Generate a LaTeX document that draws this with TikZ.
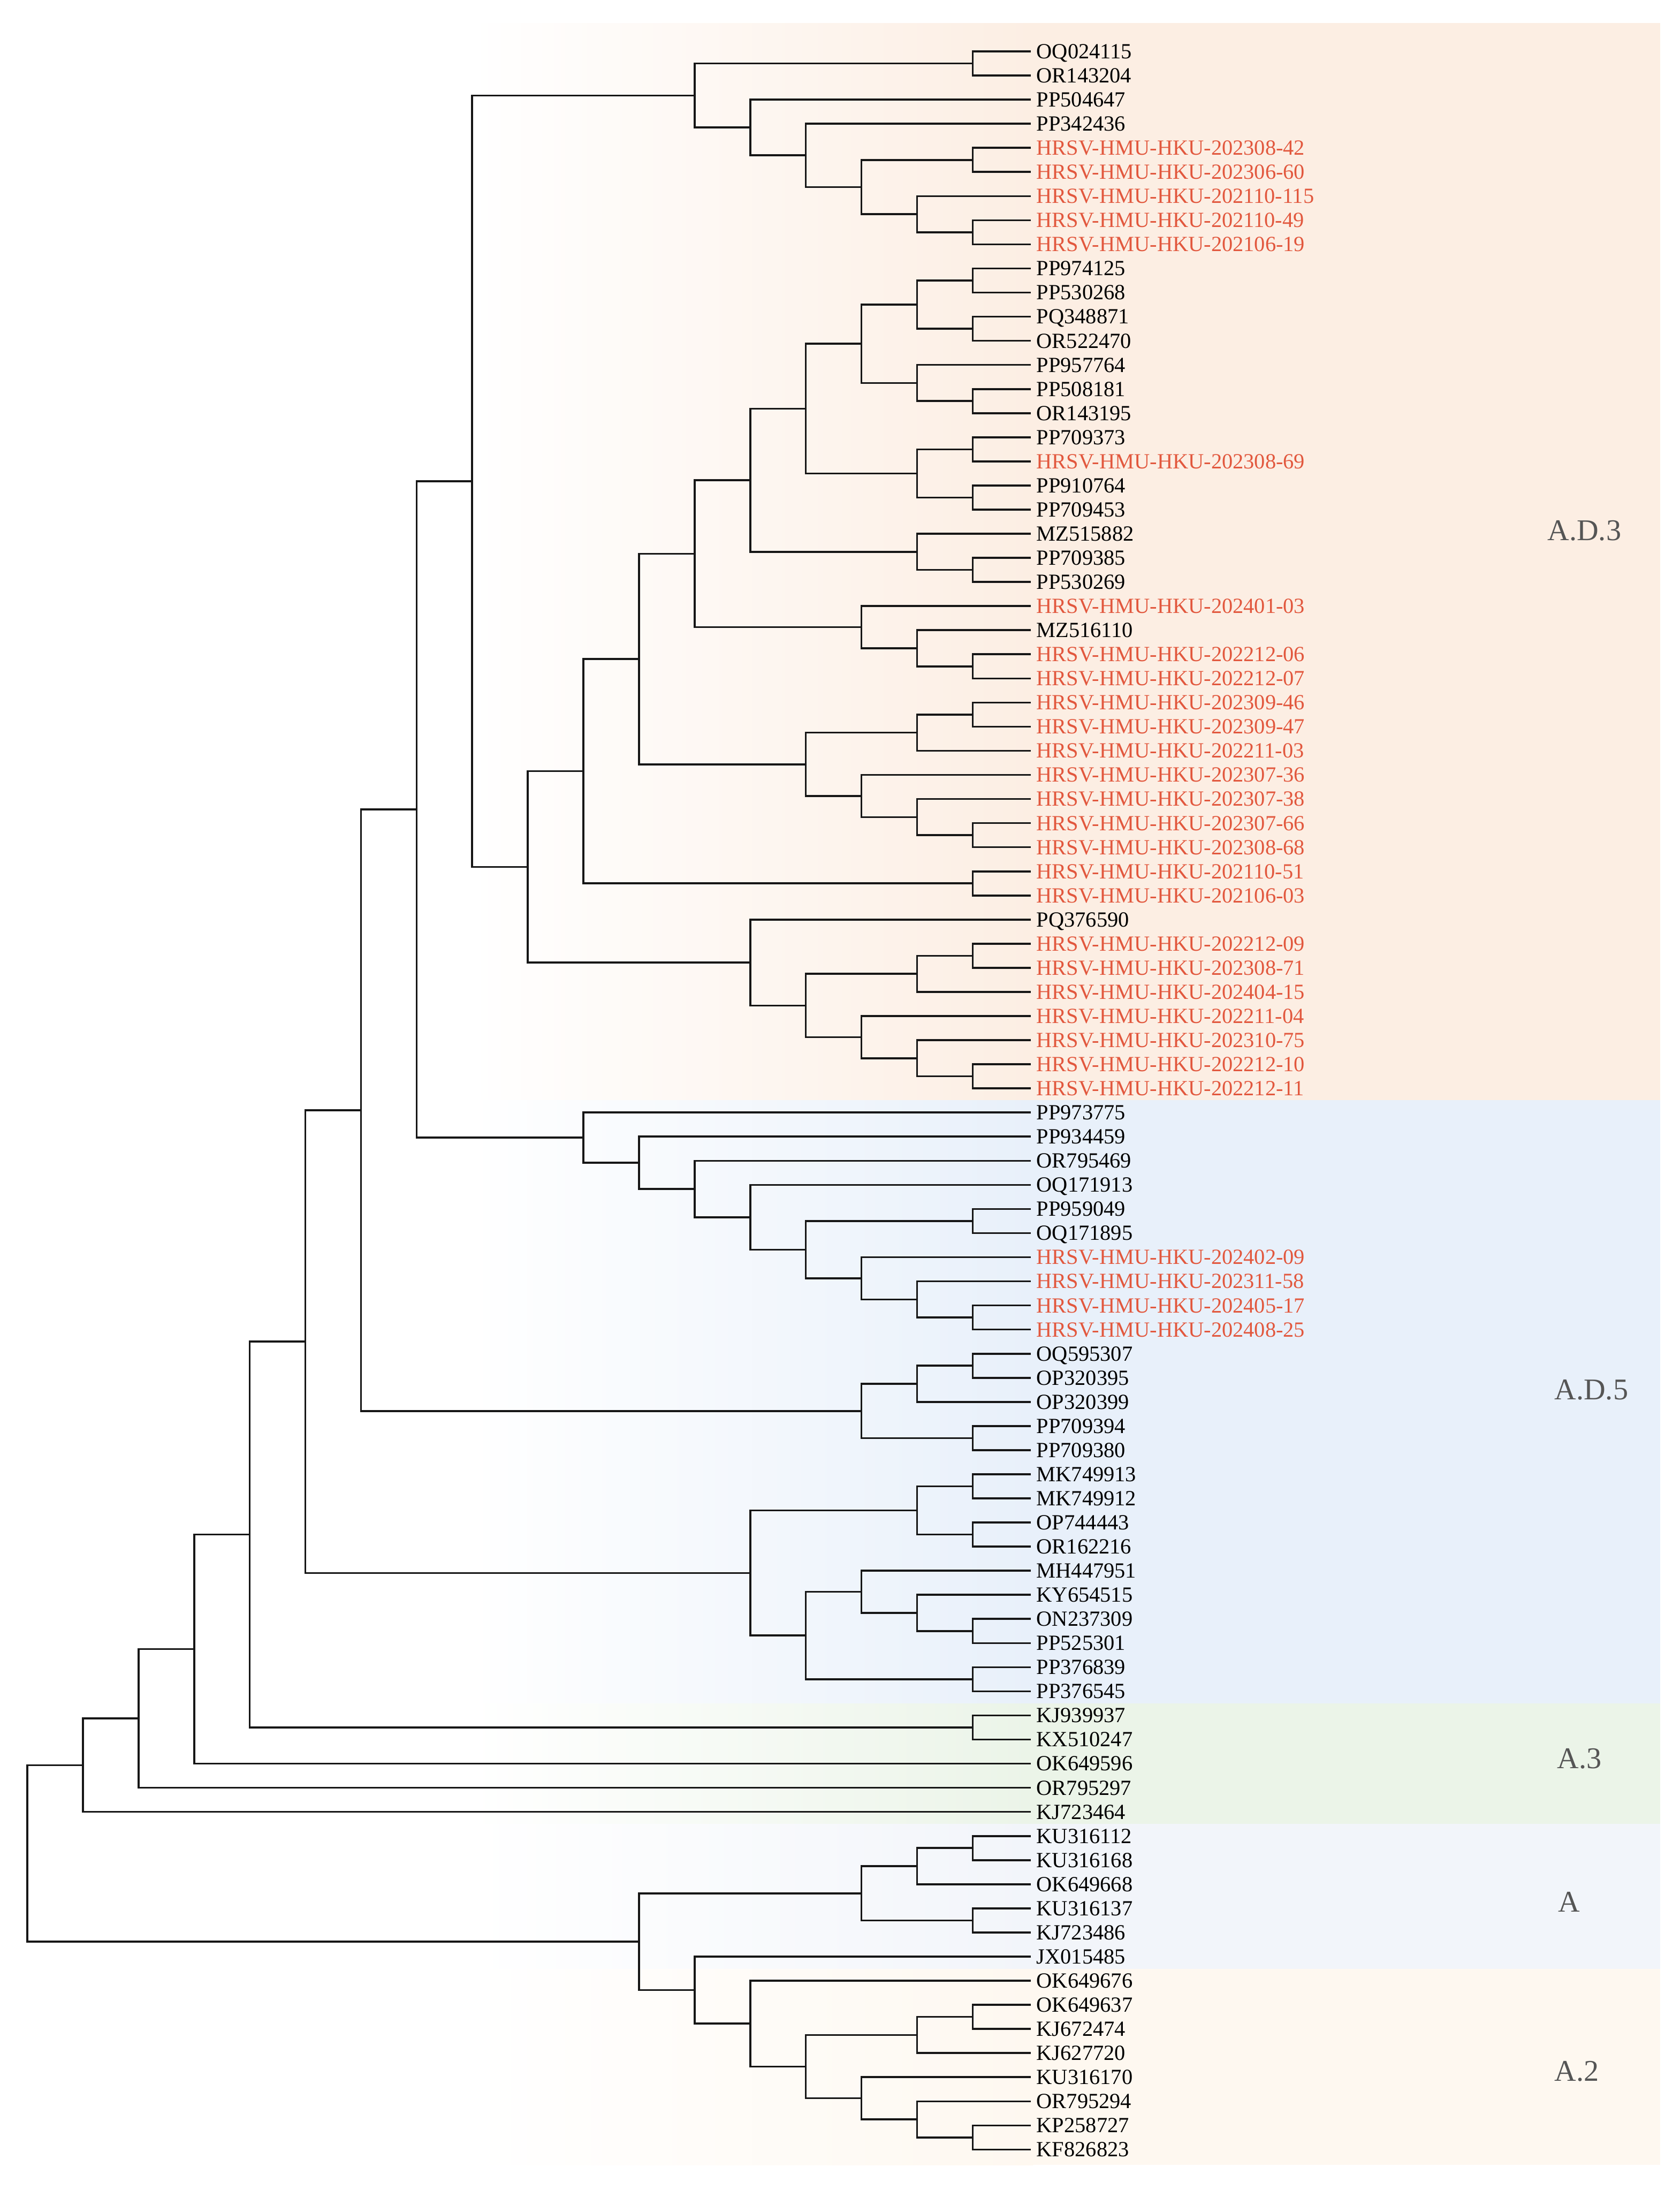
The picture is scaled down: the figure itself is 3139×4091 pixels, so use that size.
\documentclass[tikz,border=0pt]{standalone}
\usepackage{fontspec}
\setmainfont{Liberation Serif}
\usetikzlibrary{calc}
\definecolor{bgAD3}{RGB}{252,238,227}
\definecolor{bgAD5}{RGB}{232,240,250}
\definecolor{bgA3}{RGB}{235,244,232}
\definecolor{bgA}{RGB}{242,245,250}
\definecolor{bgA2}{RGB}{254,248,240}
\definecolor{hkred}{RGB}{226,88,62}
\definecolor{treeline}{RGB}{22,22,22}
\definecolor{cladegray}{RGB}{85,85,85}
\newcommand\lf[3]{%
  \coordinate (l#1) at (1926, {96+45.05*(#1-1)});
  \node[#3, anchor=base west] (t#1) at (1936, {96+45.05*(#1-1)+13.4}) {#2};
}
\newcommand\tn[4]{%
  \path let \p1=(#3), \p2=(#4) in coordinate (#1) at ({(51+103.9*#2)*0.1mm}, {0.5*\y1+0.5*\y2});
  \draw[tbranch] (#3) -| (#1) |- (#4);
}
\begin{document}
\begin{tikzpicture}[x=0.1mm,y=-0.1mm,
  tbranch/.style={line width=0.36mm, draw=treeline},
  leafb/.style={inner sep=0, text=black, font=\fontsize{11.5pt}{13pt}\selectfont},
  leafr/.style={leafb, text=hkred},
  clade/.style={inner sep=0, text=cladegray, font=\fontsize{16pt}{18pt}\selectfont}]
\useasboundingbox (0,0) rectangle (3139,4091);
\fill[white] (0,0) rectangle (3139,4091);
% background bands
\fill[left color=white, right color=bgAD3] (880,43) rectangle (1930,2055);
\fill[bgAD3] (1929,43) rectangle (3102,2055);
\fill[left color=white, right color=bgAD5] (880,2055) rectangle (1930,3182);
\fill[bgAD5] (1929,2055) rectangle (3102,3182);
\fill[left color=white, right color=bgA3] (880,3182) rectangle (1930,3407);
\fill[bgA3] (1929,3182) rectangle (3102,3407);
\fill[left color=white, right color=bgA] (880,3407) rectangle (1930,3678);
\fill[bgA] (1929,3407) rectangle (3102,3678);
\fill[left color=white, right color=bgA2] (880,3678) rectangle (1930,4044);
\fill[bgA2] (1929,3678) rectangle (3102,4044);
% leaves
\lf{1}{OQ024115}{leafb}
\lf{2}{OR143204}{leafb}
\lf{3}{PP504647}{leafb}
\lf{4}{PP342436}{leafb}
\lf{5}{HRSV-HMU-HKU-202308-42}{leafr}
\lf{6}{HRSV-HMU-HKU-202306-60}{leafr}
\lf{7}{HRSV-HMU-HKU-202110-115}{leafr}
\lf{8}{HRSV-HMU-HKU-202110-49}{leafr}
\lf{9}{HRSV-HMU-HKU-202106-19}{leafr}
\lf{10}{PP974125}{leafb}
\lf{11}{PP530268}{leafb}
\lf{12}{PQ348871}{leafb}
\lf{13}{OR522470}{leafb}
\lf{14}{PP957764}{leafb}
\lf{15}{PP508181}{leafb}
\lf{16}{OR143195}{leafb}
\lf{17}{PP709373}{leafb}
\lf{18}{HRSV-HMU-HKU-202308-69}{leafr}
\lf{19}{PP910764}{leafb}
\lf{20}{PP709453}{leafb}
\lf{21}{MZ515882}{leafb}
\lf{22}{PP709385}{leafb}
\lf{23}{PP530269}{leafb}
\lf{24}{HRSV-HMU-HKU-202401-03}{leafr}
\lf{25}{MZ516110}{leafb}
\lf{26}{HRSV-HMU-HKU-202212-06}{leafr}
\lf{27}{HRSV-HMU-HKU-202212-07}{leafr}
\lf{28}{HRSV-HMU-HKU-202309-46}{leafr}
\lf{29}{HRSV-HMU-HKU-202309-47}{leafr}
\lf{30}{HRSV-HMU-HKU-202211-03}{leafr}
\lf{31}{HRSV-HMU-HKU-202307-36}{leafr}
\lf{32}{HRSV-HMU-HKU-202307-38}{leafr}
\lf{33}{HRSV-HMU-HKU-202307-66}{leafr}
\lf{34}{HRSV-HMU-HKU-202308-68}{leafr}
\lf{35}{HRSV-HMU-HKU-202110-51}{leafr}
\lf{36}{HRSV-HMU-HKU-202106-03}{leafr}
\lf{37}{PQ376590}{leafb}
\lf{38}{HRSV-HMU-HKU-202212-09}{leafr}
\lf{39}{HRSV-HMU-HKU-202308-71}{leafr}
\lf{40}{HRSV-HMU-HKU-202404-15}{leafr}
\lf{41}{HRSV-HMU-HKU-202211-04}{leafr}
\lf{42}{HRSV-HMU-HKU-202310-75}{leafr}
\lf{43}{HRSV-HMU-HKU-202212-10}{leafr}
\lf{44}{HRSV-HMU-HKU-202212-11}{leafr}
\lf{45}{PP973775}{leafb}
\lf{46}{PP934459}{leafb}
\lf{47}{OR795469}{leafb}
\lf{48}{OQ171913}{leafb}
\lf{49}{PP959049}{leafb}
\lf{50}{OQ171895}{leafb}
\lf{51}{HRSV-HMU-HKU-202402-09}{leafr}
\lf{52}{HRSV-HMU-HKU-202311-58}{leafr}
\lf{53}{HRSV-HMU-HKU-202405-17}{leafr}
\lf{54}{HRSV-HMU-HKU-202408-25}{leafr}
\lf{55}{OQ595307}{leafb}
\lf{56}{OP320395}{leafb}
\lf{57}{OP320399}{leafb}
\lf{58}{PP709394}{leafb}
\lf{59}{PP709380}{leafb}
\lf{60}{MK749913}{leafb}
\lf{61}{MK749912}{leafb}
\lf{62}{OP744443}{leafb}
\lf{63}{OR162216}{leafb}
\lf{64}{MH447951}{leafb}
\lf{65}{KY654515}{leafb}
\lf{66}{ON237309}{leafb}
\lf{67}{PP525301}{leafb}
\lf{68}{PP376839}{leafb}
\lf{69}{PP376545}{leafb}
\lf{70}{KJ939937}{leafb}
\lf{71}{KX510247}{leafb}
\lf{72}{OK649596}{leafb}
\lf{73}{OR795297}{leafb}
\lf{74}{KJ723464}{leafb}
\lf{75}{KU316112}{leafb}
\lf{76}{KU316168}{leafb}
\lf{77}{OK649668}{leafb}
\lf{78}{KU316137}{leafb}
\lf{79}{KJ723486}{leafb}
\lf{80}{JX015485}{leafb}
\lf{81}{OK649676}{leafb}
\lf{82}{OK649637}{leafb}
\lf{83}{KJ672474}{leafb}
\lf{84}{KJ627720}{leafb}
\lf{85}{KU316170}{leafb}
\lf{86}{OR795294}{leafb}
\lf{87}{KP258727}{leafb}
\lf{88}{KF826823}{leafb}
% A.D.3 top clade
\tn{a1}{17}{l1}{l2}
\tn{a2}{17}{l5}{l6}
\tn{a3}{17}{l8}{l9}
\tn{a4}{16}{l7}{a3}
\tn{a5}{15}{a2}{a4}
\tn{a6}{14}{l4}{a5}
\tn{a7}{13}{l3}{a6}
\tn{a8}{12}{a1}{a7}
% A.D.3 main
\tn{b1}{17}{l10}{l11}
\tn{b2}{17}{l12}{l13}
\tn{b3}{16}{b1}{b2}
\tn{b4}{17}{l15}{l16}
\tn{b5}{16}{l14}{b4}
\tn{b6}{15}{b3}{b5}
\tn{b7}{17}{l17}{l18}
\tn{b8}{17}{l19}{l20}
\tn{b9}{16}{b7}{b8}
\tn{b10}{14}{b6}{b9}
\tn{b11}{17}{l22}{l23}
\tn{b12}{16}{l21}{b11}
\tn{b13}{13}{b10}{b12}
\tn{b14}{17}{l26}{l27}
\tn{b15}{16}{l25}{b14}
\tn{b16}{15}{l24}{b15}
\tn{b17}{12}{b13}{b16}
\tn{b18}{17}{l28}{l29}
\tn{b19}{16}{b18}{l30}
\tn{b20}{17}{l33}{l34}
\tn{b21}{16}{l32}{b20}
\tn{b22}{15}{l31}{b21}
\tn{b23}{14}{b19}{b22}
\tn{b24}{11}{b17}{b23}
\tn{b25}{17}{l35}{l36}
\tn{b26}{10}{b24}{b25}
\tn{c1}{17}{l38}{l39}
\tn{c2}{16}{c1}{l40}
\tn{c3}{17}{l43}{l44}
\tn{c4}{16}{l42}{c3}
\tn{c5}{15}{l41}{c4}
\tn{c6}{14}{c2}{c5}
\tn{c7}{13}{l37}{c6}
\tn{c8}{9}{b26}{c7}
\tn{ad3}{8}{a8}{c8}
% A.D.5
\tn{d1}{17}{l49}{l50}
\tn{d2}{17}{l53}{l54}
\tn{d3}{16}{l52}{d2}
\tn{d4}{15}{l51}{d3}
\tn{d5}{14}{d1}{d4}
\tn{d6}{13}{l48}{d5}
\tn{d7}{12}{l47}{d6}
\tn{d8}{11}{l46}{d7}
\tn{d9}{10}{l45}{d8}
\tn{n7}{7}{ad3}{d9}
\tn{e1}{17}{l55}{l56}
\tn{e2}{16}{e1}{l57}
\tn{e3}{17}{l58}{l59}
\tn{e4}{15}{e2}{e3}
\tn{n6}{6}{n7}{e4}
\tn{f1}{17}{l60}{l61}
\tn{f2}{17}{l62}{l63}
\tn{f3}{16}{f1}{f2}
\tn{f4}{17}{l66}{l67}
\tn{f5}{16}{l65}{f4}
\tn{f6}{15}{l64}{f5}
\tn{f7}{17}{l68}{l69}
\tn{f8}{14}{f6}{f7}
\tn{f9}{13}{f3}{f8}
\tn{n5}{5}{n6}{f9}
\tn{g1}{17}{l70}{l71}
\tn{n4}{4}{n5}{g1}
\tn{n3}{3}{n4}{l72}
\tn{n2}{2}{n3}{l73}
\tn{n1}{1}{n2}{l74}
% A and A.2
\tn{h1}{17}{l75}{l76}
\tn{h2}{16}{h1}{l77}
\tn{h3}{17}{l78}{l79}
\tn{h4}{15}{h2}{h3}
\tn{k1}{17}{l82}{l83}
\tn{k2}{16}{k1}{l84}
\tn{k3}{17}{l87}{l88}
\tn{k4}{16}{l86}{k3}
\tn{k5}{15}{l85}{k4}
\tn{k6}{14}{k2}{k5}
\tn{k7}{13}{l81}{k6}
\tn{k8}{12}{l80}{k7}
\tn{n11}{11}{h4}{k8}
\tn{root}{0}{n1}{n11}
% clade labels
\node[clade, anchor=west] (labAD3) at (2891,991) {A.D.3};
\node[clade, anchor=west] (labAD5) at (2904,2596) {A.D.5};
\node[clade, anchor=west] (labA3) at (2909,3285) {A.3};
\node[clade, anchor=west] (labA) at (2911,3553) {A};
\node[clade, anchor=west] (labA2) at (2904,3869) {A.2};
\end{tikzpicture}
\end{document}
